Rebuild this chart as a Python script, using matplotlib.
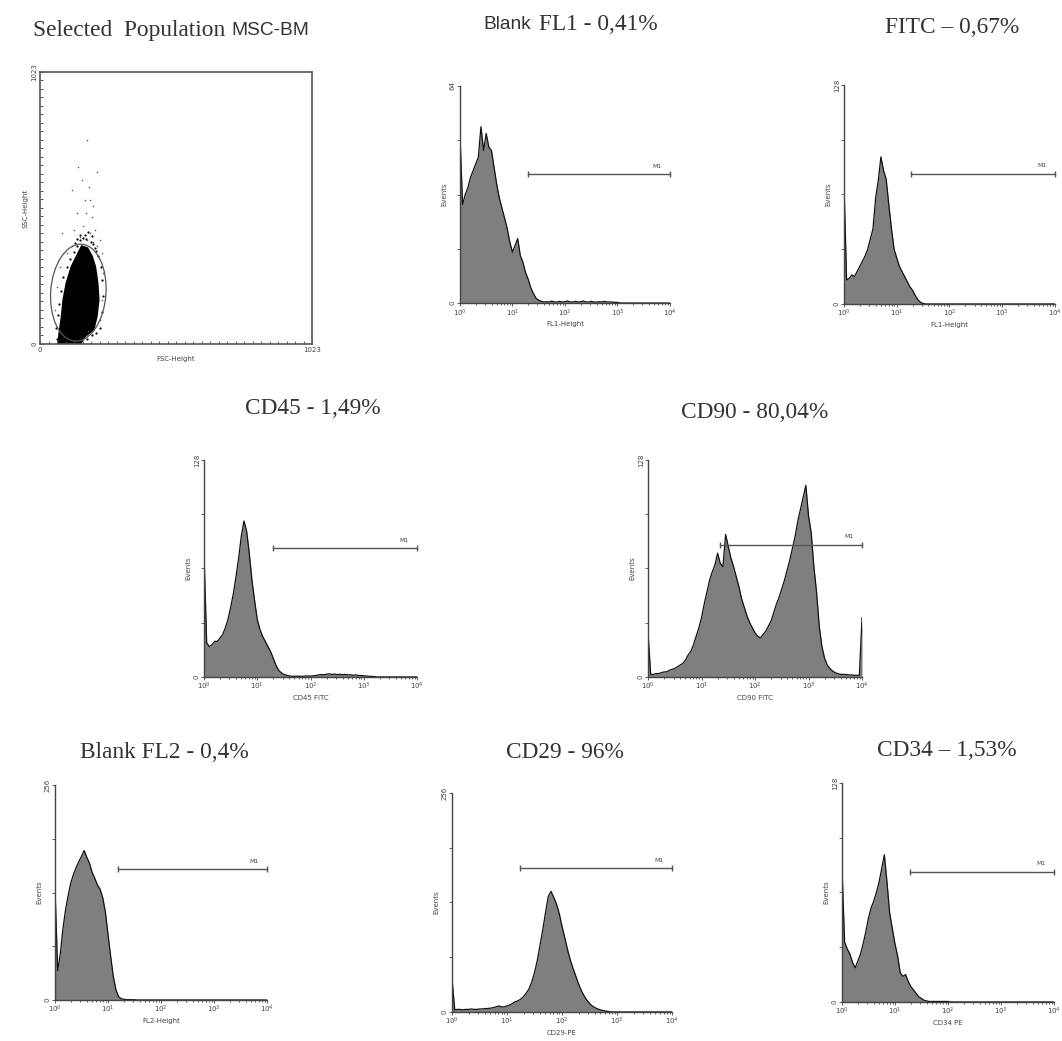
import numpy as np
import matplotlib
matplotlib.use("Agg")
import matplotlib.pyplot as plt
from matplotlib.patches import Ellipse, Polygon
from matplotlib.ticker import LogLocator, NullFormatter, MultipleLocator

# histogram channels: 0.05 decade steps from 10^0 to 10^4
CHANNELS = np.logspace(0, 4, 81)

BLANK_FL1 = [50, 29, 32, 34, 37, 39, 41, 43, 52, 45,
             50, 46, 45, 40, 35, 31, 28, 25, 22, 18,
             15, 17, 19, 14, 12, 9, 7, 4.5, 2.8, 1.4,
             0.8, 0.5, 0.3, 0.4, 0.3, 0.6, 0.3, 0.3, 0.5, 0.3,
             0.4, 0.6, 0.3, 0.3, 0.5, 0.3, 0.4, 0.6, 0.3, 0.3,
             0.5, 0.3, 0.3, 0.4, 0.3, 0.5, 0.3, 0.3, 0.3, 0.2,
             0.2] + [0] * 20
FITC = [71, 14, 15, 17, 16, 19, 22, 25, 28, 32,
        38, 44, 62, 72, 86, 78, 73, 58, 44, 32,
        27, 22, 19, 16, 13, 10, 8, 5, 2.5, 1,
        0.3] + [0] * 50
CD45 = [73, 20, 18, 19, 21, 21, 23, 25, 29, 34,
        41, 49, 59, 70, 83, 92, 86, 73, 57, 45,
        34, 28, 24, 21, 18, 15, 11, 7, 4, 2.5,
        1.5, 1, 0.6, 0.4, 0.4, 0.5, 0.4, 0.4, 0.5, 0.6,
        0.5, 0.7, 0.9, 1.2, 1.4, 1.3, 1.6, 1.8, 1.5, 1.7,
        1.4, 1.6, 1.3, 1.5, 1.2, 1.3, 1.0, 1.2, 0.9, 0.8,
        0.7, 0.5, 0.4, 0.3, 0.2] + [0] * 16
CD90 = [26, 1.5, 1.5, 2, 2, 2.5, 3, 3, 4, 4.5,
        5, 6, 7, 8, 10, 13, 15, 19, 24, 29,
        35, 43, 50, 57, 62, 66, 73, 67, 65, 84,
        77, 70, 65, 59, 53, 46, 41, 36, 32, 29,
        26, 24, 23, 25, 27, 30, 33, 38, 43, 47,
        52, 57, 63, 69, 76, 83, 92, 99, 106, 113,
        95, 85, 65, 50, 30, 18, 11, 7, 5, 3.5,
        2.5, 2, 1.5, 1.5, 1.5, 1.2, 1.2, 1, 1, 1,
        35]
BLANK_FL2 = [133, 35, 55, 85, 108, 125, 140, 150, 158, 165,
             171, 178, 170, 163, 152, 145, 137, 132, 122, 105,
             78, 52, 28, 12, 4, 1.5, 0.8, 0.4, 0.4, 0.4,
             0.3] + [0] * 50
CD29 = [39, 2.5, 3, 3, 2.5, 3, 3, 3.5, 3, 3,
        3.5, 3.5, 4, 4, 4.5, 5, 6, 7, 6, 6,
        7, 8, 10, 12, 13, 15, 18, 22, 27, 35,
        46, 60, 78, 96, 116, 135, 141, 134, 126, 115,
        100, 87, 73, 61, 51, 42, 33, 25, 19, 14,
        10, 7, 5, 3.5, 2.5, 1.5, 1, 0.5] + [0] * 23
CD34 = [79, 35, 31, 28, 23, 20, 24, 28, 34, 41,
        49, 55, 59, 64, 70, 78, 86, 70, 52, 43,
        34, 27, 17, 15, 16, 12, 9, 7, 5, 3,
        2, 1, 0.6, 0.3, 0.3, 0.3, 0.3, 0.3, 0.3, 0.3,
        0.3] + [0] * 40

# FSC / SSC dot plot: outline of the dense core plus loose events
CORE_X = [69, 73, 82, 88, 100, 119, 138, 157, 178, 195, 207, 216, 220, 213, 201, 169, 151]
CORE_Y = [0, 41, 104, 166, 229, 291, 329, 367, 360, 329, 291, 229, 166, 104, 54, 29, 0]
HALO_X = [62, 60, 66, 72, 78, 88, 100, 112, 126, 140, 150, 225, 232, 236, 234, 228, 218,
          205, 190, 172, 160, 170, 150, 180, 195, 140, 130, 210, 200, 175, 195, 210]
HALO_Y = [20, 60, 110, 150, 200, 250, 290, 320, 345, 370, 390, 60, 120, 180, 240, 290, 330,
          360, 385, 395, 400, 410, 410, 420, 405, 395, 380, 350, 375, 20, 35, 40]
LOOSE_X = [178, 144, 213, 119, 157, 188, 173, 195, 138, 207, 163, 226, 188, 82, 151, 232,
           119, 213, 75, 63, 56, 238, 232, 226, 182, 100, 176, 198, 128, 170, 201, 186]
LOOSE_Y = [767, 667, 648, 579, 617, 542, 492, 479, 492, 429, 442, 392, 417, 417, 404, 342,
           367, 367, 291, 216, 129, 266, 166, 91, 48, 342, 392, 385, 429, 542, 517, 592]

FILL = "#7f7f7f"
AXC = "#444444"
SERIF = "Liberation Serif"
SANS = "Liberation Sans"

fig = plt.figure(figsize=(10.62, 10.41), dpi=100)


def histogram(rect, counts, ymax, xlabel, m1_lo, m1_y):
    ax = fig.add_axes(rect)
    ax.fill_between(CHANNELS, counts, color=FILL, lw=0)
    ax.plot(CHANNELS, counts, color="#111111", lw=0.9)
    ax.set_xscale("log")
    ax.set_xlim(1, 1e4)
    ax.set_ylim(0, ymax)
    for s in ("top", "right"):
        ax.spines[s].set_visible(False)
    for s in ("left", "bottom"):
        ax.spines[s].set_color(AXC)
        ax.spines[s].set_linewidth(1.0)
    ax.set_xticks([1, 10, 100, 1000, 10000])
    ax.set_xticklabels([r"$10^{%d}$" % i for i in range(5)], fontsize=5)
    ax.xaxis.set_minor_locator(LogLocator(base=10, subs=np.arange(2, 10)))
    ax.xaxis.set_minor_formatter(NullFormatter())
    ax.set_yticks(np.linspace(0, ymax, 5))
    ax.set_yticklabels(["0", "", "", "", str(ymax)], rotation=90, fontsize=5, va="center")
    ax.tick_params(which="both", length=2, width=0.6, pad=1, colors=AXC)
    ax.tick_params(which="minor", length=1.5)
    ax.set_xlabel(xlabel, fontsize=5, labelpad=2, color=AXC)
    ax.set_ylabel("Events", fontsize=5, labelpad=2, color=AXC)
    ax.plot([m1_lo, 1e4], [m1_y, m1_y], color="#555555", lw=1, marker="|", ms=4,
            clip_on=False)
    ax.text(7000, m1_y + ymax * 0.025, "M1", fontsize=4.5, ha="right", va="bottom",
            color=AXC)
    return ax


# dot plot
ax = fig.add_axes([0.0377, 0.6696, 0.2561, 0.2613])
ax.set_xlim(0, 1023)
ax.set_ylim(0, 1023)
ax.add_patch(Polygon(np.column_stack([CORE_X, CORE_Y]), closed=True, fc="black",
                     ec="black", lw=1.5))
ax.scatter(HALO_X, HALO_Y, s=2.5, c="black", lw=0)
ax.scatter(LOOSE_X, LOOSE_Y, s=1.2, c="#555555", lw=0)
ax.add_patch(Ellipse((144, 193), 208, 365, angle=-4, fill=False, ec="#555555", lw=0.9))
for s in ax.spines.values():
    s.set_color("#555555")
    s.set_linewidth(1.2)
ax.set_xticks([0, 1023])
ax.set_yticks([0, 1023])
ax.set_xticklabels(["0", "1023"], fontsize=5)
ax.set_yticklabels(["0", "1023"], fontsize=5, rotation=90, va="center")
ax.xaxis.set_minor_locator(MultipleLocator(32))
ax.yaxis.set_minor_locator(MultipleLocator(32))
ax.tick_params(which="both", direction="in", length=2, width=0.6, pad=2, colors=AXC)
ax.set_xlabel("FSC-Height", fontsize=5, labelpad=2, color=AXC)
ax.set_ylabel("SSC-Height", fontsize=5, labelpad=2, color=AXC)

histogram([0.4331, 0.7089, 0.1977, 0.2085], BLANK_FL1, 64, "FL1-Height", 20, 38)
histogram([0.7947, 0.7080, 0.1987, 0.2104], FITC, 128, "FL1-Height", 19, 76)
histogram([0.1921, 0.3497, 0.2006, 0.2085], CD45, 128, "CD45 FITC", 20, 76)
histogram([0.6102, 0.3497, 0.2015, 0.2085], CD90, 128, "CD90 FITC", 22, 78)
histogram([0.0518, 0.0394, 0.1996, 0.2065], BLANK_FL2, 256, "FL2-Height", 15.5, 156)
histogram([0.4256, 0.0279, 0.2072, 0.2104], CD29, 256, "CD29-PE", 17.4, 168)
histogram([0.7928, 0.0375, 0.1996, 0.2104], CD34, 128, "CD34 PE", 19.5, 76)

TS = 16.8
TC = "#333333"
fig.text(0.2175, 0.971, "Selected  Population ", fontsize=TS, family=SERIF, ha="right",
         va="center", color=TC)
fig.text(0.2175, 0.971, "MSC-BM", fontsize=TS - 3, family=SANS, ha="left", va="center",
         color=TC)
fig.text(0.500, 0.976, "Blank", fontsize=TS - 3, family=SANS, ha="right", va="center",
         color=TC)
fig.text(0.502, 0.976, " FL1 - 0,41%", fontsize=TS, family=SERIF, ha="left", va="center",
         color=TC)
fig.text(0.897, 0.974, "FITC \u2013 0,67%", fontsize=TS, family=SERIF, ha="center",
         va="center", color=TC)
fig.text(0.2947, 0.608, "CD45 - 1,49%", fontsize=TS, family=SERIF, ha="center",
         va="center", color=TC)
fig.text(0.711, 0.604, "CD90 - 80,04%", fontsize=TS, family=SERIF, ha="center",
         va="center", color=TC)
fig.text(0.155, 0.2767, "Blank FL2 - 0,4%", fontsize=TS, family=SERIF, ha="center",
         va="center", color=TC)
fig.text(0.532, 0.2776, "CD29 - 96%", fontsize=TS, family=SERIF, ha="center",
         va="center", color=TC)
fig.text(0.8917, 0.2795, "CD34 \u2013 1,53%", fontsize=TS, family=SERIF, ha="center",
         va="center", color=TC)

fig.savefig("out.png", dpi=100)
